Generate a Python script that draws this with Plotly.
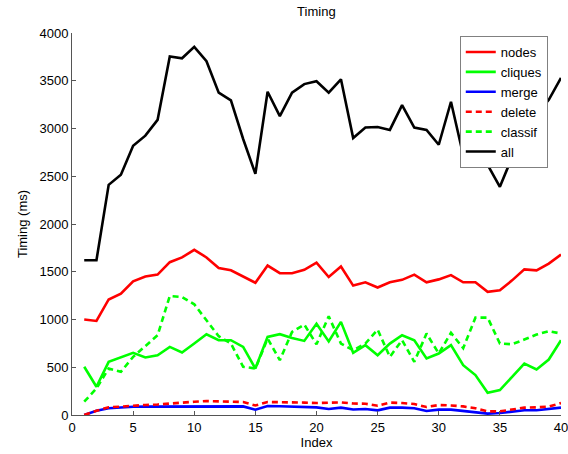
import plotly.graph_objects as go

index = list(range(1, 41))

nodes = [1000, 985, 1210, 1270, 1400, 1450, 1470, 1600, 1650, 1730,
         1650, 1540, 1515, 1450, 1385, 1565, 1485, 1485, 1520, 1595,
         1445, 1555, 1355, 1390, 1335, 1390, 1415, 1470, 1390, 1420,
         1465, 1390, 1390, 1290, 1305, 1410, 1525, 1515, 1585, 1680]

cliques = [505, 296, 557, 602, 651, 602, 626, 713, 654, 748,
           846, 783, 783, 713, 487, 818, 846, 807, 776, 955,
           770, 975, 651, 731, 626, 748, 835, 783, 592, 644,
           731, 522, 418, 233, 261, 400, 539, 477, 581, 783]

merge = [0, 45, 70, 80, 87, 88, 88, 92, 92, 94,
         95, 95, 95, 90, 55, 94, 92, 90, 90, 80,
         63, 77, 57, 63, 49, 77, 77, 70, 42, 56,
         56, 42, 28, 14, 21, 35, 49, 49, 63, 77]

delete = [0, 45, 80, 90, 100, 105, 110, 122, 130, 139,
          146, 140, 140, 136, 100, 136, 136, 132, 130, 125,
          128, 132, 120, 118, 97, 130, 125, 115, 84, 104,
          100, 90, 70, 38, 38, 56, 77, 80, 88, 125]

classif = [139, 278, 487, 452, 609, 724, 835, 1246, 1235, 1159,
           992, 825, 748, 505, 487, 800, 574, 870, 947, 740,
           1034, 748, 679, 748, 894, 609, 783, 557, 853, 644,
           860, 700, 1020, 1020, 748, 741, 790, 842, 877, 853]

all_ = [1620, 1620, 2410, 2515, 2820, 2925, 3090, 3755, 3735, 3855,
        3705, 3375, 3295, 2890, 2525, 3385, 3130, 3375, 3465, 3495,
        3375, 3515, 2900, 3010, 3015, 2985, 3245, 3010, 2985, 2830,
        3280, 2720, 2870, 2620, 2390, 2700, 3050, 3150, 3300, 3530]

x_ticks = [0, 5, 10, 15, 20, 25, 30, 35, 40]
y_ticks = [0, 500, 1000, 1500, 2000, 2500, 3000, 3500, 4000]

series = [
    ("nodes", nodes, "#ff0000", "solid"),
    ("cliques", cliques, "#00ff00", "solid"),
    ("merge", merge, "#0000ff", "solid"),
    ("delete", delete, "#ff0000", "6px,4px"),
    ("classif", classif, "#00ff00", "6px,4px"),
    ("all", all_, "#000000", "solid"),
]

fig = go.Figure()
for name, vals, color, dash in series:
    fig.add_trace(go.Scatter(
        x=index, y=vals, name=name, mode="lines",
        line=dict(color=color, width=2.6, dash=dash),
    ))

font = "Liberation Sans, Arial, sans-serif"
fig.update_layout(
    width=568, height=454,
    margin=dict(l=72, r=7, t=33, b=39, autoexpand=False),
    paper_bgcolor="white", plot_bgcolor="white",
    font=dict(family=font, size=13, color="black"),
    title=dict(text="Timing", x=0.557, xanchor="center", y=0.974, yanchor="middle",
               font=dict(size=13)),
    showlegend=True,
    legend=dict(x=0.793, y=0.992, xanchor="left", yanchor="top",
                bgcolor="white", bordercolor="#808080", borderwidth=1,
                font=dict(size=13), tracegroupgap=0, itemwidth=30),
    xaxis=dict(range=[0, 40], tickvals=x_ticks, ticks="inside", ticklen=4,
               tickcolor="#555", showline=True, linecolor="#555", linewidth=1,
               showgrid=False, zeroline=False, mirror=False, automargin=False,
               ticklabeloverflow="allow",
               title=dict(text="Index", standoff=2, font=dict(size=13)),
               tickfont=dict(size=13)),
    yaxis=dict(range=[0, 4000], tickvals=y_ticks, ticks="inside", ticklen=4,
               tickcolor="#555", showline=True, linecolor="#555", linewidth=1,
               showgrid=False, zeroline=False, mirror=False, automargin=False,
               ticklabeloverflow="allow",
               title=dict(text="Timing (ms)", standoff=8, font=dict(size=13)),
               tickfont=dict(size=13)),
)

fig.write_html("out.html")
